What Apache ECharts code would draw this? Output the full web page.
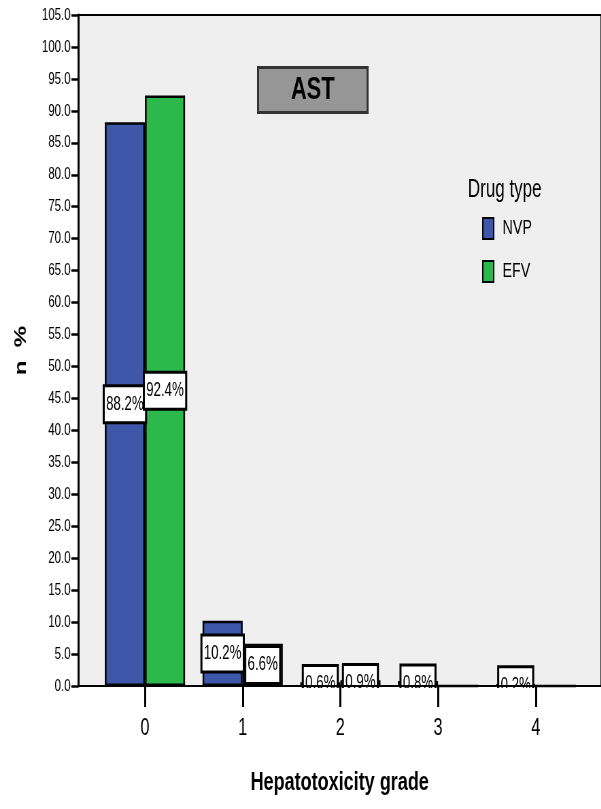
<!DOCTYPE html>
<html>
<head>
<meta charset="utf-8">
<script src="https://cdn.jsdelivr.net/npm/echarts@6/dist/echarts.min.js"></script>
<style>
  html, body { margin: 0; padding: 0; background: #fff; overflow: hidden; }
  /* chart is laid out wide and squeezed horizontally to give the narrow type */
  #chart { width: 884px; height: 809px; transform: scaleX(0.68); transform-origin: 0 0; }
</style>
</head>
<body>
<div id="chart"></div>
<script>
// Hepatotoxicity grade distribution (AST) by drug type
const grades = [0, 1, 2, 3, 4];
const nvpPct = [88.2, 10.2, 0.6, 0.8, 0.2];
const efvPct = [92.4, 6.6, 0.9, 0, 0];
const seriesNames = ['NVP', 'EFV'];

const FONT = "'Liberation Sans', Arial, sans-serif";

function toData(values) {
  return grades.map((g, i) => ({
    value: [g, values[i]],
    label: { show: values[i] > 0 }
  }));
}

const labelStyle = {
  show: true,
  position: 'inside',
  formatter: p => p.value[1].toFixed(1) + '%',
  color: '#000',
  fontFamily: FONT,
  fontSize: 19.5,
  lineHeight: 20,
  backgroundColor: '#fff',
  borderColor: '#000',
  borderWidth: 3,
  padding: [7, 2]
};

const chart = echarts.init(document.getElementById('chart'));
chart.setOption({
  animation: false,
  backgroundColor: '#fff',
  title: [
    {
      text: 'AST',
      left: 379, top: 67,
      padding: [6, 49],
      backgroundColor: '#969696',
      borderColor: '#333',
      borderWidth: 3,
      textStyle: { fontFamily: FONT, fontSize: 32, fontWeight: 'bold', color: '#000', lineHeight: 34 }
    },
    {
      text: 'Drug type',
      left: 688, top: 178,
      padding: 0,
      textStyle: { fontFamily: FONT, fontSize: 25, fontWeight: 'normal', color: '#000' }
    }
  ],
  legend: {
    data: seriesNames,
    orient: 'vertical',
    left: 709, top: 217,
    padding: 0,
    icon: 'rect',
    itemWidth: 16,
    itemHeight: 21,
    itemGap: 20,
    textStyle: { fontFamily: FONT, fontSize: 21, color: '#000', padding: [0, 0, 0, 8] }
  },
  grid: {
    left: 115, right: -3, top: 15, bottom: 123,
    show: true,
    backgroundColor: '#efefef',
    borderColor: '#000',
    borderWidth: 2
  },
  xAxis: {
    type: 'value',
    min: -0.683,
    max: 4.669,
    z: 4,
    name: 'Hepatotoxicity grade',
    nameLocation: 'middle',
    nameGap: 83,
    nameTextStyle: { fontFamily: FONT, fontSize: 26.5, fontWeight: 'bold', color: '#000' },
    axisLine: { onZero: false, lineStyle: { color: '#000', width: 2 } },
    axisTick: { customValues: grades, length: 21, lineStyle: { color: '#000', width: 3 } },
    axisLabel: { customValues: grades, margin: 30, fontFamily: FONT, fontSize: 24, color: '#000' },
    splitLine: { show: false }
  },
  yAxis: {
    type: 'value',
    min: 0, max: 105, interval: 5,
    name: 'n  %',
    nameLocation: 'middle',
    nameGap: 72,
    nameTextStyle: { fontFamily: FONT, fontSize: 24, fontWeight: 'bold', color: '#000' },
    axisLine: { show: true, onZero: false, lineStyle: { color: '#000', width: 3 } },
    axisTick: { show: true, length: 10, lineStyle: { color: '#000', width: 2.5 } },
    axisLabel: { margin: 11, fontFamily: FONT, fontSize: 17, color: '#000', formatter: v => v.toFixed(1) },
    splitLine: { show: false }
  },
  // white band below the axis line hides label boxes that hang under it
  graphic: [{
    type: 'rect',
    z: 3,
    shape: { x: 117, y: 688, width: 780, height: 24 },
    style: { fill: '#fff' }
  }],
  series: [
    {
      name: 'NVP', type: 'bar', barWidth: 59, barGap: '0%',
      data: toData(nvpPct),
      itemStyle: { color: '#3f57a8', borderColor: '#000', borderWidth: 2.5 },
      label: labelStyle
    },
    {
      name: 'EFV', type: 'bar', barWidth: 59, barGap: '0%',
      data: toData(efvPct),
      itemStyle: { color: '#2db84b', borderColor: '#000', borderWidth: 2.5 },
      label: labelStyle
    }
  ]
});
</script>
</body>
</html>
